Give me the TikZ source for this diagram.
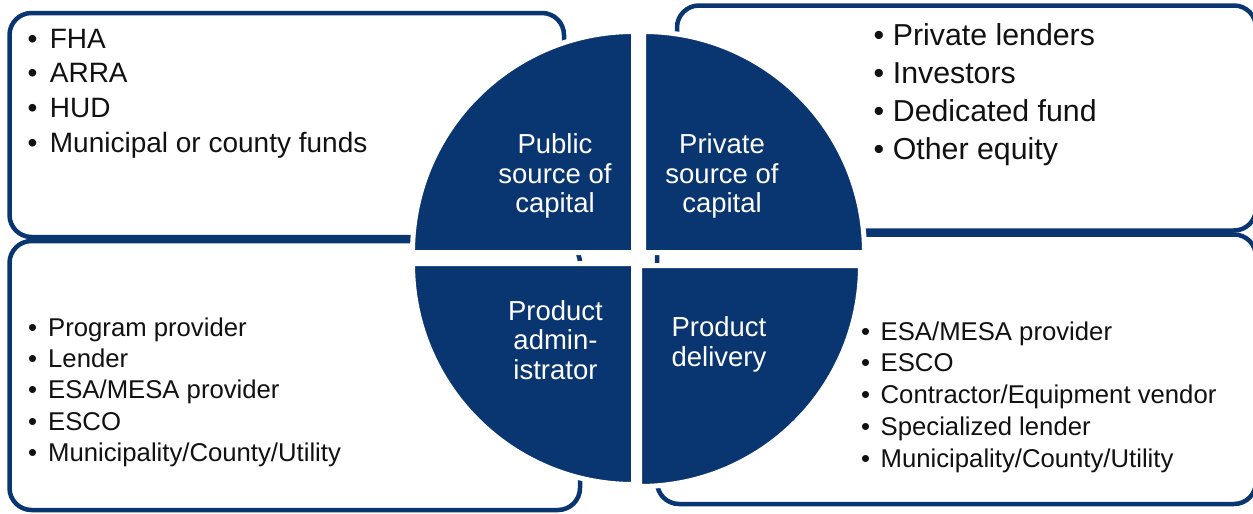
\documentclass[tikz,border=0pt]{standalone}
\usepackage{fontspec}
\setmainfont{Liberation Sans}
\definecolor{navy}{RGB}{9,54,113}
\definecolor{ink}{RGB}{17,17,17}
\begin{document}
\begin{tikzpicture}[x=1pt,y=-1pt,
  panel/.style={rectangle, draw=navy, fill=white, line width=4.5pt,
    rounded corners=22pt, inner sep=0pt},
  quad/.style={fill=navy, draw=white, line width=5pt},
  item/.style={anchor=base west, inner sep=0pt, text=ink},
  tlitem/.style={item, font=\fontsize{28pt}{34pt}\selectfont},
  tritem/.style={item, font=\fontsize{30.3pt}{36pt}\selectfont},
  btitem/.style={item, font=\fontsize{25.7pt}{31pt}\selectfont},
  qlabel/.style={anchor=base, inner sep=0pt, text=white,
    font=\fontsize{27.5pt}{30pt}\selectfont}]
\useasboundingbox (0,0) rectangle (1253,514);

% outer panels behind the wheel
\node[panel, minimum width=554.5pt, minimum height=224pt] (pubbox) at (286.75,125) {};
\node[panel, minimum width=579pt, minimum height=225pt] (privbox) at (966.5,118) {};
\node[panel, minimum width=570.5pt, minimum height=269pt] (admbox) at (294.75,375.5) {};
\node[panel, minimum width=599pt, minimum height=269.5pt] (delbox) at (956.5,369.25) {};

% the four quarters of the wheel, each with a white rim
\filldraw[quad] (633.5,252.5) -- ++(-221,0) arc[start angle=180, end angle=270, radius=221] -- cycle;
\filldraw[quad] (643.5,252.5) -- ++(0,-221) arc[start angle=270, end angle=360, radius=221] -- cycle;
\filldraw[quad] (633.5,263.5) -- ++(-221,0) arc[start angle=180, end angle=90, radius=221] -- cycle;
\filldraw[quad] (639.5,265.5) -- ++(221,0) arc[start angle=0, end angle=90, radius=221] -- cycle;

% quarter labels
\foreach \t [count=\i] in {Public, source of, capital}
  \node[qlabel] (publab\i) at ({555},{153.5+29.7*(\i-1)}) {\t};
\foreach \t [count=\i] in {Private, source of, capital}
  \node[qlabel] (privlab\i) at ({722},{153.5+29.7*(\i-1)}) {\t};
\foreach \t [count=\i] in {Product, admin-, istrator}
  \node[qlabel] (admlab\i) at ({555.5},{320+29.7*(\i-1)}) {\t};
\foreach \t [count=\i] in {Product, delivery}
  \node[qlabel] (dellab\i) at ({719},{336.7+30*(\i-1)}) {\t};

% bullet lists
\foreach \t [count=\i] in {FHA, ARRA, HUD, Municipal or county funds}
  \node[tlitem] (publist\i) at ({27.5},{48+34.8*(\i-1)}) {\makebox[22.2pt][l]{•}\t};
\foreach \t [count=\i] in {Private lenders, Investors, Dedicated fund, Other equity}
  \node[tritem] (privlist\i) at ({873.5},{45+38*(\i-1)}) {\makebox[19.2pt][l]{•}\t};
\foreach \t [count=\i] in {Program provider, Lender, ESA/MESA provider, ESCO, Municipality/County/Utility}
  \node[btitem] (admlist\i) at ({28},{336+31.4*(\i-1)}) {\makebox[20pt][l]{•}\t};
\foreach \t [count=\i] in {ESA/MESA provider, ESCO, Contractor/Equipment vendor, Specialized lender, Municipality/County/Utility}
  \node[btitem] (dellist\i) at ({861},{340+31.8*(\i-1)}) {\makebox[19.5pt][l]{•}\t};
\end{tikzpicture}
\end{document}
